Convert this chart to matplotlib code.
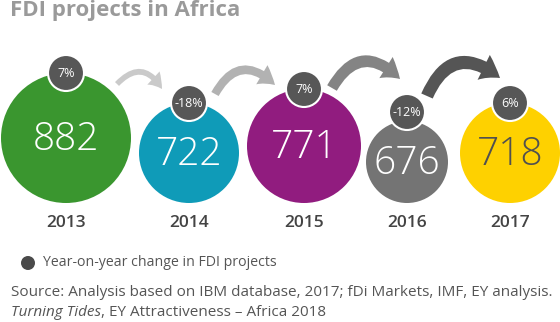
import matplotlib
matplotlib.use('Agg')
import matplotlib.pyplot as plt
from matplotlib.patches import Circle, FancyArrowPatch

# data read from the infographic
years = ['2013', '2014', '2015', '2016', '2017']
projects = [882, 722, 771, 676, 718]
changes = ['7%', '-18%', '7%', '-12%', '6%']

# layout (pixels)
cx = [66, 189, 304, 407, 510]
radii = [65, 50, 57, 41, 50]
bottom = 203
colors = ['#3a962f', '#0f9bb8', '#911c7f', '#747474', '#fed100']
numcol = ['white', 'white', 'white', 'white', '#505050']
badge_dy = [0, 0, 0, -9, 0]
arrows = [((117, 84), (162, 89), '#cacaca', 4, 13, 10),
          ((215, 94), (275, 85), '#b2b2b2', 6, 16, 12),
          ((332, 88), (400, 79), '#848484', 8, 18, 13),
          ((427, 96), (500, 78), '#555555', 9, 20, 14)]

plt.rcParams['font.family'] = ['Open Sans', 'DejaVu Sans']

fig = plt.figure(figsize=(5.6, 3.22), dpi=100)
ax = fig.add_axes([0, 0, 1, 1])
ax.set_xlim(0, 560)
ax.set_ylim(322, 0)
ax.axis('off')

for (a, b, c, tw, hw, hl) in arrows:
    ar = FancyArrowPatch(a, b, connectionstyle='arc3,rad=-0.65',
                         arrowstyle='simple,tail_width=%g,head_width=%g,head_length=%g' % (tw, hw, hl),
                         color=c, shrinkA=0, shrinkB=0, lw=0, zorder=1)
    ax.add_patch(ar)

for i in range(len(years)):
    cy = bottom - radii[i]
    ax.add_patch(Circle((cx[i], cy), radii[i], color=colors[i], lw=0, zorder=2))
    ax.text(cx[i], cy + 2, str(projects[i]), ha='center', va='center', fontsize=28,
            color=numcol[i], fontweight='light', zorder=4)
    by = cy - radii[i] + badge_dy[i]
    ax.add_patch(Circle((cx[i], by), 18, facecolor='#575757', edgecolor='white', lw=1.5, zorder=3))
    ax.text(cx[i], by, changes[i], ha='center', va='center', fontsize=9, color='white', zorder=4)
    ax.text(cx[i], 223, years[i], ha='center', va='center', fontsize=12.5,
            color='#444444', fontweight='semibold')

ax.text(10, 10, 'FDI projects in Africa', ha='left', va='center', fontsize=16,
        color='#9a9a9a', fontweight='bold')

ax.add_patch(Circle((28, 263), 7, color='#4a4a4a', lw=0))
ax.text(43, 263, 'Year-on-year change in FDI projects', ha='left', va='center',
        fontsize=10.2, color='#555555')
ax.text(11, 293, 'Source: Analysis based on IBM database, 2017; fDi Markets, IMF, EY analysis.',
        ha='left', va='center', fontsize=11, color='#555555')
t1 = ax.text(11, 313, 'Turning Tides', ha='left', va='center', fontsize=11,
             color='#555555', style='italic')
ax.annotate(', EY Attractiveness \u2013 Africa 2018', xy=(1, 0.5), xycoords=t1,
            ha='left', va='center', fontsize=11, color='#555555')

fig.savefig('out.png', dpi=100, facecolor='white')
